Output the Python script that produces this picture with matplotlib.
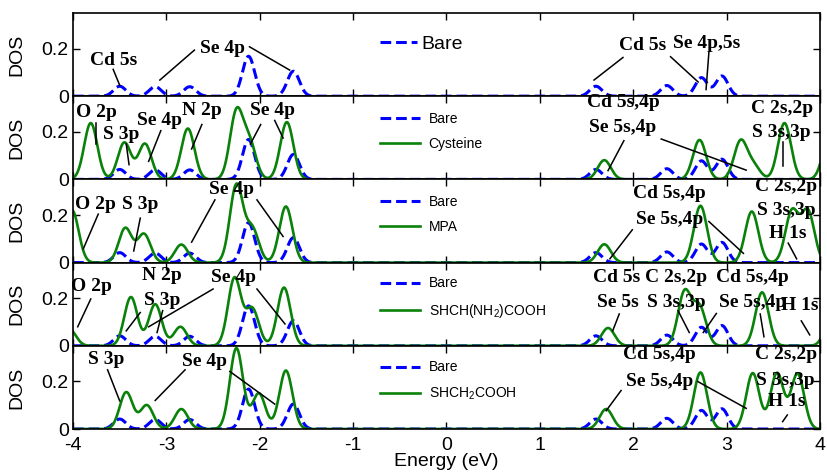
import numpy as np
import matplotlib
matplotlib.use("Agg")
import matplotlib.pyplot as plt

# DOS of CdSe cluster, bare and with different ligands
# peaks: centre (eV) and height, broadened with a gaussian

BARE_CENTERS = [-3.50, -3.12, -2.75, -2.12, -1.64, 1.60, 2.36, 2.73, 2.95]
BARE_HEIGHTS = [0.042, 0.040, 0.040, 0.168, 0.105, 0.042, 0.045, 0.078, 0.085]

LIGAND_NAMES = ["Cysteine", "MPA", "SHCH(NH$_2$)COOH", "SHCH$_2$COOH"]

CYS_CENTERS = [-3.81, -3.45, -3.23, -2.77, -2.25, -2.11, -1.71, 1.69, 2.71, 3.15, 3.29, 3.62, 4.10]
CYS_HEIGHTS = [0.237, 0.155, 0.150, 0.214, 0.280, 0.150, 0.241, 0.081, 0.166, 0.160, 0.055, 0.237, 0.180]

MPA_CENTERS = [-4.01, -3.44, -3.24, -2.84, -2.25, -2.08, -1.72, 1.69, 2.72, 3.27, 3.70, 3.87]
MPA_HEIGHTS = [0.220, 0.145, 0.120, 0.076, 0.325, 0.140, 0.236, 0.077, 0.239, 0.215, 0.215, 0.215]

CYSNH_CENTERS = [-4.04, -3.38, -3.12, -2.85, -2.27, -2.08, -1.74, 1.73, 2.55, 2.71, 3.38, 4.12]
CYSNH_HEIGHTS = [0.070, 0.205, 0.175, 0.080, 0.285, 0.155, 0.245, 0.075, 0.225, 0.160, 0.225, 0.110]

TGA_CENTERS = [-3.43, -3.21, -2.84, -2.25, -2.01, -1.72, 1.71, 2.72, 3.28, 3.54, 3.76]
TGA_HEIGHTS = [0.155, 0.100, 0.084, 0.340, 0.150, 0.246, 0.084, 0.238, 0.235, 0.235, 0.232]

GREEN_CENTERS = [None, CYS_CENTERS, MPA_CENTERS, CYSNH_CENTERS, TGA_CENTERS]
GREEN_HEIGHTS = [None, CYS_HEIGHTS, MPA_HEIGHTS, CYSNH_HEIGHTS, TGA_HEIGHTS]
SIGMA_BARE = 0.065
SIGMA_LIG = 0.07

# orbital labels: (text, E, DOS)
LABELS = [
    [("Cd 5s", -3.57, 0.152), ("Se 4p", -2.40, 0.200), ("Cd 5s", 2.10, 0.215), ("Se 4p,5s", 2.79, 0.222)],
    [("O 2p", -3.75, 0.283), ("S 3p", -3.48, 0.191), ("Se 4p", -3.07, 0.248), ("N 2p", -2.62, 0.290),
     ("Se 4p", -1.86, 0.290), ("Cd 5s,4p", 1.89, 0.325), ("Se 5s,4p", 1.89, 0.219),
     ("C 2s,2p", 3.59, 0.297), ("S 3s,3p", 3.59, 0.198)],
    [("O 2p", -3.76, 0.243), ("S 3p", -3.28, 0.243), ("Se 4p", -2.30, 0.307), ("Cd 5s,4p", 2.39, 0.292),
     ("Se 5s,4p", 2.39, 0.180), ("C 2s,2p", 3.64, 0.320), ("S 3s,3p", 3.64, 0.218), ("H 1s", 3.66, 0.124)],
    [("O 2p", -3.80, 0.249), ("N 2p", -3.05, 0.295), ("S 3p", -3.05, 0.190), ("Se 4p", -2.28, 0.288),
     ("Cd 5s", 1.82, 0.288), ("Se 5s", 1.84, 0.183), ("C 2s,2p", 2.46, 0.288), ("S 3s,3p", 2.46, 0.183),
     ("Cd 5s,4p", 3.28, 0.288), ("Se 5s,4p", 3.28, 0.183), ("H 1s", 3.78, 0.169)],
    [("S 3p", -3.65, 0.291), ("Se 4p", -2.59, 0.284), ("Cd 5s,4p", 2.28, 0.312), ("Se 5s,4p", 2.28, 0.200),
     ("C 2s,2p", 3.64, 0.312), ("S 3s,3p", 3.63, 0.204), ("H 1s", 3.64, 0.115)],
]

# pointer lines: (E0, DOS0, E1, DOS1)
POINTERS = [
    [(-3.57, 0.113, -3.50, 0.046), (-2.70, 0.194, -3.07, 0.068), (-2.11, 0.208, -1.68, 0.110),
     (1.89, 0.163, 1.58, 0.068), (2.40, 0.166, 2.695, 0.060), (2.81, 0.183, 2.78, 0.028)],
    [(-3.75, 0.236, -3.75, 0.149), (-3.43, 0.149, -3.40, 0.062), (-3.06, 0.205, -3.19, 0.076),
     (-2.62, 0.231, -2.73, 0.128), (-1.99, 0.231, -2.10, 0.149), (-1.84, 0.248, -1.75, 0.174),
     (1.90, 0.163, 1.73, 0.037), (2.30, 0.170, 3.21, 0.039), (3.60, 0.156, 3.60, 0.058)],
    [(-3.73, 0.204, -3.89, 0.058), (-3.28, 0.187, -3.35, 0.049), (-2.48, 0.264, -2.73, 0.086),
     (-2.03, 0.264, -1.75, 0.110), (1.99, 0.138, 1.75, 0.016), (2.81, 0.173, 3.18, 0.039),
     (3.66, 0.082, 3.75, 0.016)],
    [(-3.81, 0.197, -3.95, 0.080), (-3.28, 0.140, -3.43, 0.063), (-3.04, 0.148, -3.10, 0.056),
     (-2.50, 0.239, -3.19, 0.080), (-2.03, 0.239, -1.73, 0.092), (1.85, 0.134, 1.78, 0.063),
     (2.48, 0.148, 2.60, 0.056), (2.89, 0.136, 2.75, 0.056), (3.36, 0.134, 3.40, 0.038),
     (3.80, 0.105, 3.89, 0.046)],
    [(-3.63, 0.249, -3.50, 0.118), (-2.80, 0.249, -3.12, 0.120), (-2.32, 0.242, -1.84, 0.105),
     (1.87, 0.162, 1.71, 0.077), (2.69, 0.200, 3.21, 0.087), (3.65, 0.059, 3.60, 0.031)],
]


def Broaden(E, centers, heights, sigma):
    dos = np.zeros_like(E)
    for c, h in zip(centers, heights):
        dos += h * np.exp(-0.5 * ((E - c) / sigma) ** 2)
    return dos


plt.rcParams['font.family'] = 'Liberation Sans'
plt.rcParams['axes.unicode_minus'] = False
plt.rcParams['mathtext.fontset'] = 'custom'
plt.rcParams['mathtext.rm'] = 'Liberation Sans'

fig, axes = plt.subplots(5, 1, figsize=(8.27, 4.75), dpi=100, sharex=True)
plt.subplots_adjust(left=0.0883, right=0.9915, top=0.9726, bottom=0.0968, hspace=0)

E = np.linspace(-4, 4, 2001)
bare = Broaden(E, BARE_CENTERS, BARE_HEIGHTS, SIGMA_BARE)

for i, ax in enumerate(axes):
    ax.plot(E, bare, color='blue', linewidth=2.2, linestyle=(0, (3.5, 1.6)), label='Bare', zorder=2)
    if i > 0:
        ax.plot(E, Broaden(E, GREEN_CENTERS[i], GREEN_HEIGHTS[i], SIGMA_LIG), color='#0a820a',
                linewidth=1.9, label=LIGAND_NAMES[i - 1], zorder=2)

    for txt, x, y in LABELS[i]:
        ax.text(x, y, txt, ha='center', va='center', fontsize=14, fontweight='bold',
                family='Liberation Serif', zorder=4)
    for x0, y0, x1, y1 in POINTERS[i]:
        ax.plot([x0, x1], [y0, y1], color='black', linewidth=1.1, zorder=3)

    ax.set_xlim(-4, 4)
    ax.set_ylim(0, 0.35)
    ax.set_yticks([0, 0.2])
    ax.set_yticklabels(["0", "0.2"])
    if i < 3:
        ax.set_xticks([-4, -2, 0, 2, 4])
    else:
        ax.set_xticks(np.arange(-4, 5, 1))
    ax.tick_params(direction='in', top=True, right=True, length=5, width=1, labelsize=14, pad=3)
    ax.tick_params(axis='x', pad=6)
    for sp in ax.spines.values():
        sp.set_linewidth(1.2)
    ax.set_ylabel("DOS", fontsize=14)
    ax.yaxis.set_label_coords(-0.064, 0.5)

    if i == 0:
        ax.legend(loc='center left', bbox_to_anchor=(0.411, 0.627), frameon=False, fontsize=14,
                  handlelength=1.9, handletextpad=0.25, borderpad=0, borderaxespad=0)
    else:
        ax.legend(loc='center left', bbox_to_anchor=(0.411, 0.575), frameon=False, fontsize=10,
                  handlelength=2.9, handletextpad=0.6, labelspacing=0.8, borderpad=0, borderaxespad=0)

axes[-1].set_xticklabels([str(v) for v in range(-4, 5)])
axes[-1].set_xlabel("Energy (eV)", fontsize=14, labelpad=-1)

fig.savefig("out.png", dpi=100)
